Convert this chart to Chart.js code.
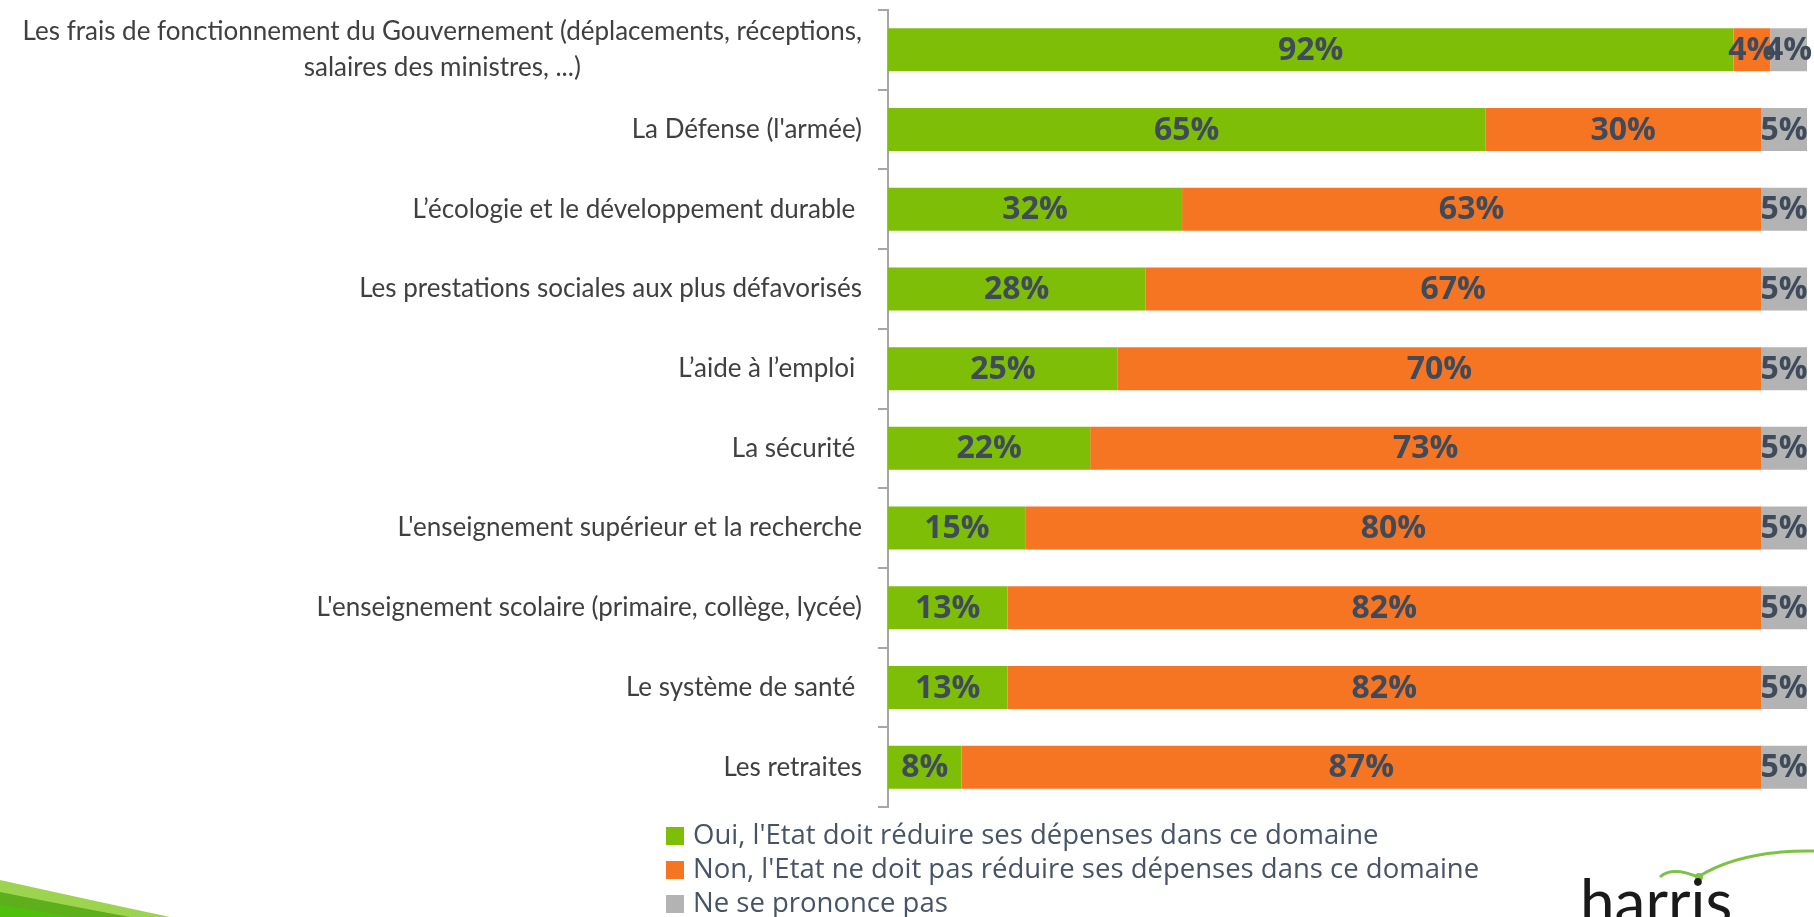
<!DOCTYPE html>
<html lang="fr">
<head>
<meta charset="utf-8">
<title>Réduction des dépenses de l'Etat</title>
<script src="https://cdn.jsdelivr.net/npm/chart.js@4.4.1/dist/chart.umd.min.js"></script>
<style>
  html, body { margin: 0; padding: 0; background: #fff; }
  #wrap { position: relative; width: 1814px; height: 917px; overflow: hidden; }
  #graphique { position: absolute; left: 0; top: 0; }
  #legende { position: absolute; left: 666px; top: 817px; font-family: "Open Sans", sans-serif; font-size: 27.5px; color: #475466; }
  #legende div { height: 34px; line-height: 34px; white-space: nowrap; }
  #legende span { display: inline-block; width: 18px; height: 18px; margin-right: 9px; vertical-align: -1px; }
  #deco { position: absolute; left: 0; top: 0; }
</style>
</head>
<body>
<div id="wrap">
  <svg id="deco" width="1814" height="917">
    <path d="M0,880 Q90,900 170,917 L0,917 Z" fill="#9cd450"/>
    <path d="M0,892 Q70,906 130,917 L0,917 Z" fill="#5daf1c"/>
    <path d="M0,905 Q40,911 70,917 L0,917 Z" fill="#4fc00c"/>
    <path d="M1660,877 Q1672,866 1698,877 Q1740,850 1814,851" fill="none" stroke="#7dc242" stroke-width="3"/>
    <circle cx="1699" cy="877" r="4" fill="#7dc242"/>
    <text x="1580" y="924" font-family="Lato, sans-serif" font-size="62" fill="#1a1a1a">harris</text>
  </svg>
  <canvas id="graphique" width="1814" height="917"></canvas>
  <div id="legende"></div>
</div>
<script>
const categories = [
  ['Les frais de fonctionnement du Gouvernement (déplacements, réceptions,', 'salaires des ministres, ...)'],
  "La Défense (l'armée)",
  'L’écologie et le développement durable ',
  'Les prestations sociales aux plus défavorisés',
  'L’aide à l’emploi ',
  'La sécurité ',
  "L'enseignement supérieur et la recherche",
  "L'enseignement scolaire (primaire, collège, lycée)",
  'Le système de santé ',
  'Les retraites'
];
const oui = [92, 65, 32, 28, 25, 22, 15, 13, 13, 8];
const non = [4, 30, 63, 67, 70, 73, 80, 82, 82, 87];
const nsp = [4, 5, 5, 5, 5, 5, 5, 5, 5, 5];
const seriesNames = [
  "Oui, l'Etat doit réduire ses dépenses dans ce domaine",
  "Non, l'Etat ne doit pas réduire ses dépenses dans ce domaine",
  'Ne se prononce pas'
];
const couleurs = ['#7fbe06', '#f57522', '#b3b3b3'];

// etiquettes de l'axe Y (centrees si plusieurs lignes, comme dans PowerPoint)
const etiquettesY = {
  id: 'etiquettesY',
  afterDraw(chart) {
    const ctx = chart.ctx;
    const sc = chart.scales.y;
    const droite = sc.right - 10 - 16;
    ctx.save();
    ctx.font = '26px Lato';
    ctx.fillStyle = '#404040';
    ctx.textAlign = 'center';
    ctx.textBaseline = 'middle';
    chart.data.labels.forEach((lab, i) => {
      const lignes = Array.isArray(lab) ? lab : [lab];
      const large = Math.max(...lignes.map(l => ctx.measureText(l).width));
      const y = sc.getPixelForTick(i);
      lignes.forEach((l, k) => {
        ctx.fillText(l, droite - large / 2, y + (k - (lignes.length - 1) / 2) * 36);
      });
    });
    ctx.restore();
  }
};

const valeurs = {
  id: 'valeurs',
  afterDatasetsDraw(chart) {
    const ctx = chart.ctx;
    ctx.save();
    ctx.font = 'bold 32px "Open Sans"';
    ctx.fillStyle = '#3f4b5b';
    ctx.textAlign = 'center';
    ctx.textBaseline = 'middle';
    chart.data.datasets.forEach((ds, i) => {
      chart.getDatasetMeta(i).data.forEach((bar, j) => {
        ctx.fillText(ds.data[j] + '%', (bar.x + bar.base) / 2, bar.y + 1);
      });
    });
    ctx.restore();
  }
};

const chartData = {
  labels: categories,
  datasets: [
    { label: seriesNames[0], data: oui, backgroundColor: couleurs[0] },
    { label: seriesNames[1], data: non, backgroundColor: couleurs[1] },
    { label: seriesNames[2], data: nsp, backgroundColor: couleurs[2] }
  ]
};

const options = {
  indexAxis: 'y',
  responsive: false,
  animation: false,
  barPercentage: 0.54,
  categoryPercentage: 1,
  layout: { padding: { left: 0, right: 7, top: 10, bottom: 110 } },
  plugins: {
    legend: { display: false },
    tooltip: { enabled: false }
  },
  scales: {
    x: { stacked: true, min: 0, max: 100, display: false },
    y: {
      stacked: true,
      grid: { offset: true, drawOnChartArea: false, tickLength: 10, color: '#a6a6a6', lineWidth: 2 },
      border: { color: '#a6a6a6', width: 2 },
      ticks: { display: false },
      afterFit: function(scale) { scale.width = 888; }
    }
  }
};

new Chart(document.getElementById('graphique'), {
  type: 'bar',
  data: chartData,
  options: options,
  plugins: [etiquettesY, valeurs]
});

const legende = document.getElementById('legende');
legende.innerHTML = seriesNames.map((n, i) =>
  `<div><span style="background:${couleurs[i]}"></span>${n}</div>`).join('');
</script>
</body>
</html>
